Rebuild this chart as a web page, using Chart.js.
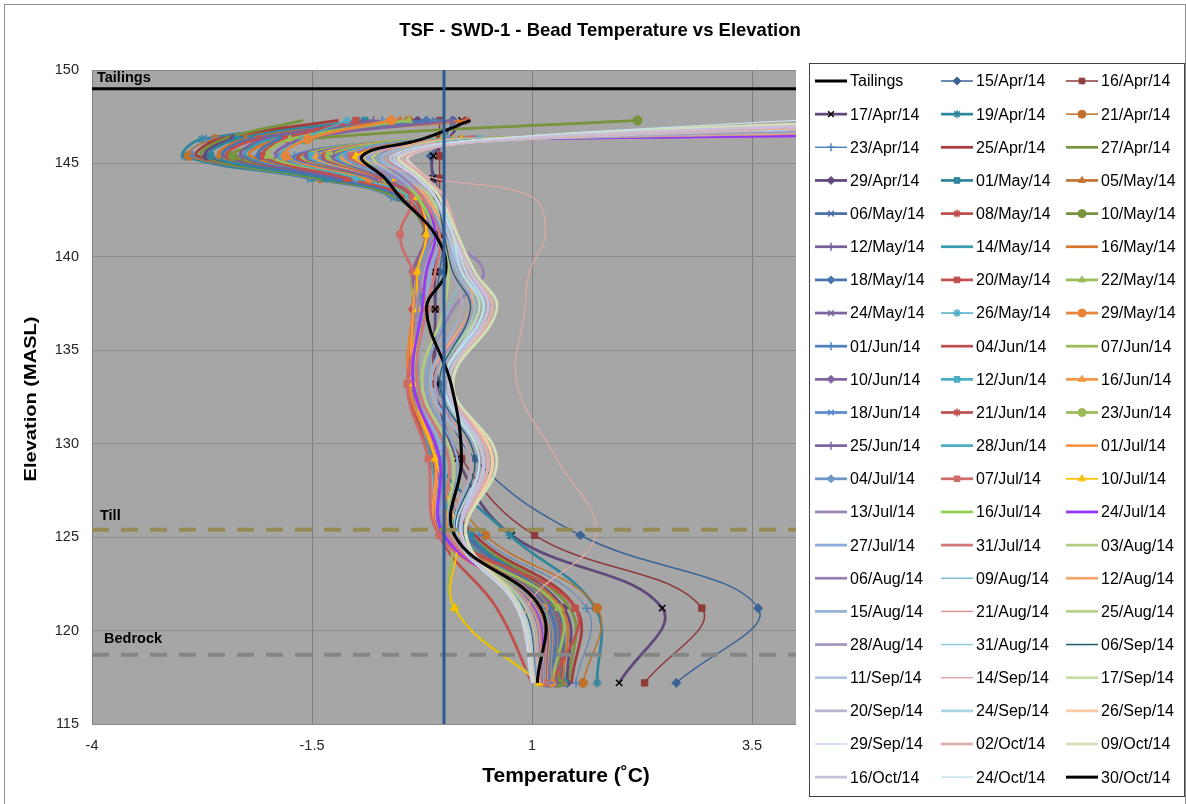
<!DOCTYPE html>
<html>
<head>
<meta charset="utf-8">
<title>TSF - SWD-1 - Bead Temperature vs Elevation</title>
<script src="https://cdn.jsdelivr.net/npm/chart.js@4/dist/chart.umd.min.js"></script>
<style>
    html, body { margin: 0; padding: 0; background: #ffffff; }
    #wrap { width: 1186px; height: 804px; }
</style>
</head>
<body>
<div id="wrap"><canvas id="beadChart" width="1186" height="804"></canvas></div>
<script>
// bead elevations (MASL), top of string to bottom
const beadElev = [147.3, 146.3, 145.4, 144.2, 143.2, 141.2, 139.2, 137.2, 133.2, 129.2, 125.1, 121.2, 117.2];

const readDates = [
    '15/Apr/14', '16/Apr/14', '17/Apr/14', '19/Apr/14', '21/Apr/14', '23/Apr/14', '25/Apr/14', '27/Apr/14', '29/Apr/14',
    '01/May/14', '05/May/14', '06/May/14', '08/May/14', '10/May/14', '12/May/14', '14/May/14', '16/May/14', '18/May/14',
    '20/May/14', '22/May/14', '24/May/14', '26/May/14', '29/May/14',
    '01/Jun/14', '04/Jun/14', '07/Jun/14', '10/Jun/14', '12/Jun/14', '16/Jun/14', '18/Jun/14', '21/Jun/14', '23/Jun/14',
    '25/Jun/14', '28/Jun/14',
    '01/Jul/14', '04/Jul/14', '07/Jul/14', '10/Jul/14', '13/Jul/14', '16/Jul/14', '24/Jul/14', '27/Jul/14', '31/Jul/14',
    '03/Aug/14', '06/Aug/14', '09/Aug/14', '12/Aug/14', '15/Aug/14', '21/Aug/14', '25/Aug/14', '28/Aug/14', '31/Aug/14',
    '06/Sep/14', '11/Sep/14', '14/Sep/14', '17/Sep/14', '20/Sep/14', '24/Sep/14', '26/Sep/14', '29/Sep/14',
    '02/Oct/14', '09/Oct/14', '16/Oct/14', '24/Oct/14', '30/Oct/14'
];

// one row per reading date, one value per bead (deg C)
const beadTemps = [
    [0.10, 0.00, -0.15, -0.10, -0.05, 0.00, -0.05, -0.10, -0.05, 0.35, 1.55, 3.57, 2.64],
    [-0.05, -0.05, -0.05, -0.05, -0.05, -0.05, -0.10, -0.10, -0.10, 0.20, 1.03, 2.93, 2.28],
    [0.20, 0.05, -0.12, -0.13, -0.10, -0.05, -0.10, -0.10, -0.08, 0.15, 0.77, 2.48, 1.99],
    [-0.60, -2.75, -2.95, -1.50, -0.55, -0.15, -0.30, -0.25, -0.30, -0.10, 0.75, 1.72, 1.74],
    [-0.40, -2.60, -2.90, -1.40, -0.50, -0.20, -0.30, -0.30, -0.30, -0.10, 0.47, 1.74, 1.58],
    [-0.70, -2.70, -2.85, -1.55, -0.60, -0.15, -0.35, -0.30, -0.35, -0.15, 0.40, 1.62, 1.50],
    [-1.20, -2.55, -2.80, -1.30, -0.50, -0.20, -0.35, -0.35, -0.35, -0.15, 0.35, 1.50, 1.45],
    [-1.60, -2.50, -2.75, -1.45, -0.55, -0.20, -0.30, -0.30, -0.30, -0.10, 0.30, 1.43, 1.42],
    [-0.30, -2.40, -2.70, -1.20, -0.45, -0.15, -0.30, -0.30, -0.35, -0.15, 0.25, 1.36, 1.40],
    [-0.90, -2.35, -2.65, -1.35, -0.50, -0.20, -0.35, -0.30, -0.30, -0.10, 0.30, 1.26, 1.37],
    [-0.50, -2.25, -2.55, -1.10, -0.45, -0.15, -0.30, -0.35, -0.40, -0.15, 0.20, 1.33, 1.35],
    [-0.10, -2.20, -2.50, -1.25, -0.50, -0.20, -0.35, -0.30, -0.35, -0.10, 0.25, 1.28, 1.33],
    [0.25, -2.10, -2.45, -1.00, -0.40, -0.15, -0.30, -0.30, -0.30, -0.10, 0.20, 1.24, 1.32],
    [2.20, -1.60, -2.40, -0.90, -0.40, -0.20, -0.30, -0.30, -0.35, -0.15, 0.15, 1.22, 1.30],
    [-0.80, -2.05, -2.30, -1.15, -0.45, -0.15, -0.35, -0.35, -0.40, -0.15, 0.15, 1.22, 1.28],
    [0.00, -1.95, -2.25, -0.95, -0.40, -0.20, -0.30, -0.30, -0.35, -0.10, 0.20, 1.20, 1.27],
    [0.30, -1.85, -2.20, -0.85, -0.35, -0.20, -0.35, -0.30, -0.30, -0.10, 0.15, 1.19, 1.26],
    [-0.20, -1.85, -2.10, -1.00, -0.40, -0.15, -0.30, -0.35, -0.35, -0.15, 0.10, 1.18, 1.25],
    [-1.00, -1.80, -2.05, -1.10, -0.45, -0.20, -0.30, -0.30, -0.40, -0.15, 0.10, 1.49, 1.24],
    [-0.40, -1.75, -2.00, -0.90, -0.40, -0.15, -0.35, -0.35, -0.35, -0.10, 0.05, 1.30, 1.23],
    [0.10, -1.60, -1.90, -0.80, -0.35, -0.20, -0.30, -0.30, -0.30, -0.10, 0.10, 1.15, 1.22],
    [-1.10, -1.60, -1.85, -1.00, -0.40, -0.20, -0.35, -0.30, -0.35, -0.15, 0.05, 1.14, 1.22],
    [-0.60, -1.55, -1.80, -0.85, -0.35, -0.15, -0.30, -0.35, -0.40, -0.10, 0.10, 1.13, 1.21],
    [12.0, 0.10, -1.70, -0.80, -0.35, -0.20, -0.30, -0.30, -0.35, -0.10, 0.05, 1.12, 1.20],
    [15.0, 0.30, -1.65, -0.75, -0.30, -0.15, -0.35, -0.30, -0.30, -0.10, -0.05, 0.60, 1.00],
    [18.0, 0.00, -1.60, -0.70, -0.30, -0.20, -0.30, -0.30, -0.35, -0.05, 0.05, 1.11, 1.18],
    [14.0, 0.20, -1.55, -0.75, -0.35, -0.20, -0.30, -0.35, -0.35, -0.10, 0.00, 1.10, 1.18],
    [20.0, 0.40, -1.50, -0.70, -0.30, -0.15, -0.30, -0.30, -0.30, -0.05, 0.05, 1.10, 1.17],
    [16.0, 0.10, -1.45, -0.70, -0.30, -0.20, -0.35, -0.30, -0.35, -0.10, 0.00, 1.09, 1.17],
    [22.0, 0.30, -1.40, -0.65, -0.30, -0.15, -0.30, -0.30, -0.30, -0.05, 0.00, 1.08, 1.16],
    [19.0, 0.20, -1.35, -0.70, -0.35, -0.20, -0.30, -0.35, -0.35, -0.10, -0.05, 1.08, 1.16],
    [17.0, 0.00, -1.30, -0.65, -0.30, -0.15, -0.30, -0.30, -0.30, -0.05, 0.10, 0.12, 1.10],
    [24.0, 0.35, -1.25, -0.65, -0.30, -0.20, -0.35, -0.30, -0.35, -0.10, -0.05, 1.07, 1.15],
    [21.0, 0.15, -1.20, -0.60, -0.30, -0.15, -0.30, -0.30, -0.30, -0.05, 0.00, 1.06, 1.15],
    [18.0, 0.25, -1.15, -0.60, -0.30, -0.20, -0.30, -0.35, -0.35, -0.10, -0.05, 1.06, 1.14],
    [25.0, 0.05, -1.10, -0.60, -0.25, -0.15, -0.30, -0.30, -0.30, -0.05, 0.00, 1.05, 1.14],
    [20.0, 0.30, -1.05, -0.55, -0.35, -0.50, -0.35, -0.20, -0.42, -0.18, -0.05, 1.05, 1.13],
    [23.0, 0.20, -1.00, -0.55, -0.30, -0.20, -0.30, -0.30, -0.35, -0.10, 0.15, 0.12, 1.08],
    [19.0, 0.40, -0.95, -0.55, -0.30, -0.15, -0.25, -0.30, -0.30, -0.05, 0.05, 1.04, 1.12],
    [22.0, 0.10, -0.90, -0.50, -0.30, -0.10, -0.20, -0.25, -0.30, 0.00, 0.05, 1.03, 1.12],
    [26.0, 0.30, -0.85, -0.50, -0.25, -0.10, -0.20, -0.25, -0.35, -0.05, 0.00, 1.02, 1.11],
    [18.0, 0.50, -0.85, -0.50, -0.25, -0.05, -0.15, -0.20, -0.30, 0.00, 0.05, 1.00, 1.10],
    [21.0, 0.20, -0.80, -0.45, -0.25, -0.05, -0.10, -0.20, -0.30, 0.05, 0.05, 1.00, 1.10],
    [17.0, 0.35, -0.80, -0.45, -0.20, 0.00, 0.05, 0.00, -0.25, 0.10, 0.10, 0.98, 1.09],
    [20.0, 0.15, -0.75, -0.45, -0.20, 0.00, 0.45, 0.10, -0.20, 0.15, 0.10, 0.97, 1.09],
    [16.0, 0.45, -0.75, -0.40, -0.20, 0.00, 0.20, 0.05, -0.20, 0.15, 0.10, 0.96, 1.08],
    [19.0, 0.25, -0.70, -0.40, -0.20, 0.05, 0.25, 0.30, -0.15, 0.30, 0.15, 0.95, 1.08],
    [15.0, 0.40, -0.70, -0.40, -0.15, 0.05, 0.10, 0.20, -0.15, 0.30, 0.15, 0.94, 1.07],
    [14.0, 0.60, -0.65, -0.35, -0.15, 0.00, 0.10, 0.20, -0.10, 0.30, 0.10, 0.93, 1.07],
    [13.0, 0.30, -0.60, -0.35, -0.15, 0.05, 0.20, 0.40, -0.10, 0.45, 0.20, 0.92, 1.06],
    [12.0, 0.50, -0.60, -0.35, -0.10, 0.05, 0.15, 0.30, -0.10, 0.40, 0.15, 0.90, 1.06],
    [11.0, 0.35, -0.55, -0.30, -0.10, 0.05, 0.15, 0.35, -0.05, 0.40, 0.20, 0.90, 1.05],
    [10.0, 0.45, -0.55, -0.30, -0.10, 0.00, 0.10, 0.30, -0.05, 0.35, 0.15, 0.90, 1.05],
    [8.0, 0.60, -0.50, -0.30, -0.10, 0.05, 0.20, 0.45, 0.00, 0.50, 0.20, 0.88, 1.04],
    [9.0, 0.70, -0.90, -0.10, 1.00, 1.15, 0.97, 0.92, 0.83, 1.28, 1.72, 0.94, 1.04],
    [7.0, 0.80, -0.50, -0.25, -0.05, 0.10, 0.30, 0.55, 0.05, 0.55, 0.25, 0.87, 1.03],
    [6.0, 0.65, -0.45, -0.25, -0.05, 0.10, 0.25, 0.50, 0.05, 0.50, 0.20, 0.86, 1.03],
    [8.0, 0.90, -0.45, -0.20, -0.05, 0.10, 0.20, 0.45, 0.00, 0.45, 0.20, 0.86, 1.02],
    [5.0, 0.55, -0.40, -0.20, 0.00, 0.15, 0.30, 0.55, 0.10, 0.55, 0.25, 0.85, 1.02],
    [6.0, 0.75, -0.40, -0.20, 0.00, 0.10, 0.20, 0.40, 0.00, 0.40, 0.20, 0.85, 1.02],
    [7.0, 0.85, -0.45, -0.20, 0.00, 0.15, 0.30, 0.55, 0.10, 0.50, 0.25, 0.84, 1.01],
    [5.0, 0.60, -0.50, -0.25, -0.05, 0.15, 0.35, 0.60, 0.10, 0.60, 0.25, 0.84, 1.01],
    [6.0, 0.70, -0.55, -0.30, -0.10, 0.10, 0.30, 0.50, 0.05, 0.45, 0.20, 0.83, 1.00],
    [4.0, 0.50, -0.60, -0.30, -0.10, 0.10, 0.25, 0.45, 0.00, 0.40, 0.15, 0.83, 1.00],
    [0.30, -0.25, -0.93, -0.67, -0.50, -0.10, 0.02, -0.20, 0.08, 0.20, 0.12, 1.10, 1.06]
];

// horizons
const tailingsElev = 149.0;
const tillElev = 125.4;
const bedrockElev = 118.7;
const freezeTemp = 0;

const xTickValues = [-4, -1.5, 1, 3.5];
const yTickValues = [115, 120, 125, 130, 135, 140, 145, 150];

// per-date line styling
const lineColors = [
    '#3c6496', '#8e3b39', '#5f497a', '#31859c', '#c0712c', '#4f81bd', '#a33c3a', '#77933c', '#604a7b',
    '#31859c', '#c87533', '#4a72a8', '#c0504d', '#77933c', '#7a5f9a', '#3a9ab0', '#d9772c', '#4a76b0',
    '#c0504d', '#9bbb59', '#8064a2', '#4bacc6', '#e6863a',
    '#4f81bd', '#c0504d', '#9bbb59', '#8064a2', '#4bacc6', '#f79646', '#5b8bc9', '#c0504d', '#9bbb59',
    '#8064a2', '#4bacc6',
    '#f79646', '#6f95c9', '#cd6b69', '#ffc000', '#9a85b8', '#92d050', '#9933ff', '#8eaadb', '#d27775',
    '#b3cc82', '#9682b4', '#78c0d4', '#f9a46a', '#95b3d7', '#d99694', '#b8cf8d', '#a696c0', '#93cddd',
    '#215968', '#b0c4e2', '#e0a8a7', '#c9dba8', '#bfb3d2', '#a9d6e2', '#fbc8a4', '#c6d9f1',
    '#deaeac', '#d3e2b6', '#c9bfda', '#c5e3ec', '#000000'
];
const lineWidths = [
    1.5, 1.5, 2.75, 2.75, 1.5, 1, 2.75, 2.75, 2.75,
    2.75, 2.75, 2.75, 2.75, 2.75, 2.75, 2.75, 2.75, 2.75,
    2.75, 2.75, 2.75, 1.5, 2.75,
    2.75, 2.75, 2.75, 2.75, 2.75, 2.75, 2.75, 2.75, 2.75,
    2.75, 2.75,
    2.75, 2.75, 2.75, 1.75, 2.75, 2.75, 2.75, 2.75, 2.75,
    2.75, 2.75, 1.25, 2.75, 2.75, 1.25, 2.75, 2.75, 1.25,
    1.25, 2.75, 1.25, 2.75, 2.75, 2.75, 2.75, 1.25,
    2.75, 2.75, 2.75, 1.25, 3
];
const markerShapes = [
    'diamond', 'square', 'x', 'star', 'circle', 'plus', '', '', 'diamond',
    'square', 'triangle', 'x', 'star', 'circle', 'plus', '', '', 'diamond',
    'square', 'triangle', 'x', 'star', 'circle',
    'plus', '', '', 'diamond', 'square', 'triangle', 'x', 'star', 'circle',
    'plus', '',
    '', 'diamond', 'square', 'triangle'
];
const markerEdge = { '17/Apr/14': '#000000' };

const POINT_STYLE = {
    diamond: 'rectRot', square: 'rect', triangle: 'triangle',
    x: 'crossRot', star: 'star', circle: 'circle', plus: 'cross'
};
const STROKED = ['x', 'star', 'plus'];
const FONT = '"Liberation Sans", Arial, sans-serif';

function lineSet(label, points, color, width, extra) {
    return Object.assign({
        label,
        data: points,
        showLine: true,
        borderColor: color,
        backgroundColor: color,
        borderWidth: width,
        pointRadius: 0,
        pointStyle: false,
        tension: 0
    }, extra || {});
}

const dateSets = readDates.map((label, i) => {
    const shape = markerShapes[i] || '';
    const color = lineColors[i];
    return {
        label,
        data: beadElev.map((elev, j) => ({ x: beadTemps[i][j], y: elev })),
        showLine: true,
        borderColor: color,
        backgroundColor: color,
        borderWidth: lineWidths[i],
        tension: 0.4,
        pointStyle: shape ? POINT_STYLE[shape] : false,
        pointRadius: shape ? 4.5 : 0,
        pointBackgroundColor: color,
        pointBorderColor: markerEdge[label] || color,
        pointBorderWidth: STROKED.includes(shape) ? 1.5 : 1,
        order: -1 - i
    };
});

const tailingsSet = lineSet('Tailings', [{ x: -4, y: tailingsElev }, { x: 4, y: tailingsElev }], '#000000', 3, { order: -200 });
const tillSet = lineSet('Till', [{ x: -4, y: tillElev }, { x: 4, y: tillElev }], '#948a54', 4, { borderDash: [17, 12], order: -201 });
const bedrockSet = lineSet('Bedrock', [{ x: -4, y: bedrockElev }, { x: 4, y: bedrockElev }], '#858585', 4, { borderDash: [17, 12], order: -202 });
const freezeSet = lineSet('0 C', [{ x: freezeTemp, y: 150 }, { x: freezeTemp, y: 115 }], '#2c5a94', 3, { order: -203 });

const legendItems = [tailingsSet].concat(dateSets);

function drawLegend(ctx) {
    const colLine = [815, 941, 1066];
    ctx.save();
    ctx.strokeStyle = '#404040';
    ctx.lineWidth = 1;
    ctx.strokeRect(809.5, 63.5, 375, 733);
    ctx.font = '16px ' + FONT;
    ctx.textAlign = 'left';
    ctx.textBaseline = 'middle';
    legendItems.forEach((ds, k) => {
        const x0 = colLine[k % 3];
        const yy = 81 + Math.floor(k / 3) * 33.15;
        ctx.setLineDash([]);
        ctx.strokeStyle = ds.borderColor;
        ctx.lineWidth = Math.max(ds.borderWidth, 1.5);
        ctx.beginPath();
        ctx.moveTo(x0, yy);
        ctx.lineTo(x0 + 32, yy);
        ctx.stroke();
        if (ds.pointStyle) {
            ctx.fillStyle = ds.pointBackgroundColor;
            ctx.strokeStyle = ds.pointBorderColor;
            ctx.lineWidth = ds.pointBorderWidth;
            Chart.helpers.drawPoint(ctx, {
                pointStyle: ds.pointStyle, radius: 4, rotation: 0, borderWidth: ds.pointBorderWidth
            }, x0 + 16, yy);
        }
        ctx.fillStyle = '#000000';
        ctx.fillText(ds.label, x0 + 35, yy + 1);
    });
    ctx.restore();
}

const framePlugin = {
    id: 'frame',
    beforeDraw(chart) {
        const { ctx, chartArea: a } = chart;
        ctx.save();
        ctx.fillStyle = '#ffffff';
        ctx.fillRect(0, 0, chart.width, chart.height);
        ctx.fillStyle = '#a6a6a6';
        ctx.fillRect(a.left, a.top, a.right - a.left, a.bottom - a.top);
        ctx.restore();
    },
    afterDraw(chart) {
        const { ctx, chartArea: a } = chart;
        const y = chart.scales.y;
        ctx.save();
        ctx.fillStyle = '#000000';
        ctx.textBaseline = 'middle';
        ctx.textAlign = 'center';
        ctx.font = 'bold 18.5px ' + FONT;
        ctx.fillText('TSF - SWD-1 - Bead Temperature vs Elevation', 600, 31);

        ctx.font = 'bold 21px ' + FONT;
        ctx.fillText('Temperature (˚C)', 566, 776);

        // axis title is drawn a little stretched along its length
        ctx.save();
        ctx.translate(31, 399);
        ctx.rotate(-Math.PI / 2);
        ctx.scale(1.18, 1);
        ctx.font = 'bold 17px ' + FONT;
        ctx.fillText('Elevation (MASL)', 0, 0);
        ctx.restore();

        // horizon labels sit just above their lines
        ctx.textAlign = 'left';
        ctx.font = 'bold 14.5px ' + FONT;
        ctx.fillText('Tailings', a.left + 5, y.getPixelForValue(tailingsElev) - 11);
        ctx.fillText('Till', a.left + 8, y.getPixelForValue(tillElev) - 14);
        ctx.fillText('Bedrock', a.left + 12, y.getPixelForValue(bedrockElev) - 16);

        drawLegend(ctx);

        ctx.strokeStyle = '#8c8c8c';
        ctx.lineWidth = 1;
        ctx.strokeRect(4.5, 4.5, 1181, 820);
        ctx.restore();
    }
};

const tickFont = { family: FONT, size: 14.5 };

new Chart(document.getElementById('beadChart'), {
    type: 'scatter',
    data: { datasets: [freezeSet, bedrockSet, tillSet, tailingsSet].concat(dateSets) },
    options: {
        responsive: false,
        animation: false,
        devicePixelRatio: 1,
        events: [],
        layout: { padding: { top: 70, right: 390, bottom: 0, left: 0 } },
        plugins: { legend: { display: false }, tooltip: { enabled: false }, title: { display: false } },
        scales: {
            x: {
                type: 'linear',
                min: -4,
                max: 4,
                afterBuildTicks: s => { s.ticks = xTickValues.map(v => ({ value: v })); },
                afterFit: s => { s.height = 80; },
                grid: { color: '#7f7f7f', drawTicks: false },
                border: { display: false },
                ticks: { padding: 13, color: '#262626', font: tickFont, maxRotation: 0 }
            },
            y: {
                type: 'linear',
                min: 115,
                max: 150,
                afterBuildTicks: s => { s.ticks = yTickValues.map(v => ({ value: v })); },
                afterFit: s => { s.width = 92; },
                grid: { color: '#8a8a8a', drawTicks: false },
                border: { display: false },
                ticks: { padding: 13, color: '#262626', font: tickFont }
            }
        }
    },
    plugins: [framePlugin]
});
</script>
</body>
</html>
